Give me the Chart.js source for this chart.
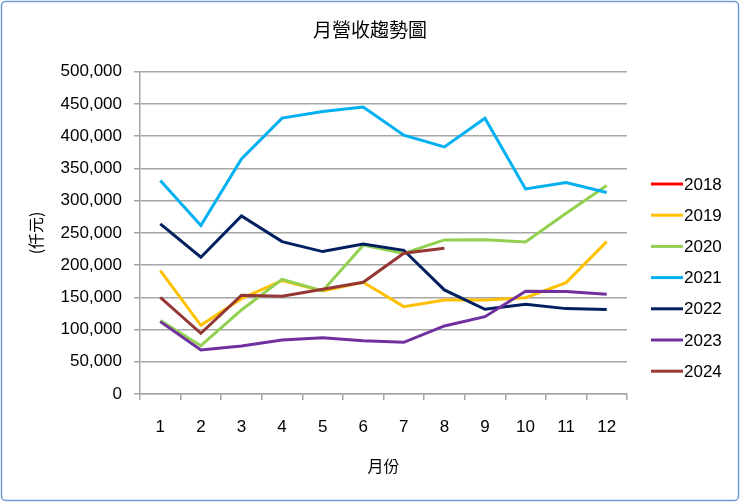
<!DOCTYPE html>
<html>
<head>
<meta charset="utf-8">
<script src="https://cdn.jsdelivr.net/npm/chart.js@4/dist/chart.umd.min.js"></script>
<style>
  html, body { margin: 0; padding: 0; background: #fff; }
  #wrap { width: 740px; height: 502px; }
</style>
</head>
<body>
<div id="wrap"><canvas id="revenueChart"></canvas></div>
<script>
const months = ["1", "2", "3", "4", "5", "6", "7", "8", "9", "10", "11", "12"];
const years = ["2018", "2019", "2020", "2021", "2022", "2023", "2024"];
const lineColors = ["#ff0000", "#ffc000", "#92d050", "#00b0f0", "#002060", "#7030a0", "#953735"];

const rev2018 = [];
const rev2019 = [191500, 106600, 148000, 176000, 160000, 173400, 135600, 146000, 146000, 149500, 172800, 236500];
const rev2020 = [114000, 75000, 130400, 178000, 160000, 231000, 218000, 239100, 239500, 236000, 280500, 323400];
const rev2021 = [331200, 261300, 364900, 428100, 438400, 445200, 401700, 383500, 428000, 318300, 328100, 312600];
const rev2022 = [264000, 212300, 276400, 236500, 221000, 232900, 223000, 161500, 131500, 139300, 132500, 131000];
const rev2023 = [112300, 68300, 74500, 83900, 87400, 82800, 80200, 105600, 120000, 159400, 159000, 154800];
const rev2024 = [150100, 94200, 153200, 151700, 162500, 173400, 218500, 226200];

const series = [rev2018, rev2019, rev2020, rev2021, rev2022, rev2023, rev2024];
const gridGray = "#a6a6a6";

// white background, rounded frame and the line legend on the right
const frameAndLegend = {
  id: "frameAndLegend",
  beforeDraw: (chart) => {
    const { ctx, width, height } = chart;
    ctx.save();
    ctx.fillStyle = "#fff";
    ctx.fillRect(0, 0, width, height);
    ctx.restore();
  },
  afterDraw: (chart) => {
    const { ctx, width, height } = chart;
    ctx.save();
    ctx.strokeStyle = "#6d9bd8";
    ctx.lineWidth = 1.5;
    ctx.beginPath();
    ctx.roundRect(1.5, 1.5, width - 3, height - 3, 4);
    ctx.stroke();

    ctx.font = '17px "Liberation Sans", Arial, sans-serif';
    ctx.textBaseline = "middle";
    ctx.fillStyle = "#000";
    chart.data.datasets.forEach((ds, i) => {
      const y = 184 + i * 31.2;
      ctx.strokeStyle = ds.borderColor;
      ctx.lineWidth = 3;
      ctx.beginPath();
      ctx.moveTo(651, y);
      ctx.lineTo(683, y);
      ctx.stroke();
      ctx.fillText(ds.label, 684, y + 1);
    });
    ctx.restore();
  },
};

const data = {
  labels: months,
  datasets: years.map((yr, i) => ({
    label: yr,
    data: series[i],
    borderColor: lineColors[i],
    backgroundColor: lineColors[i],
    borderWidth: 3,
    pointRadius: 0,
    tension: 0,
    order: years.length - i,
  })),
};

const options = {
  responsive: true,
  maintainAspectRatio: false,
  animation: false,
  layout: { padding: 0 },
  plugins: {
    legend: { display: false },
    tooltip: { enabled: false },
    title: {
      display: true,
      text: "月營收趨勢圖",
      color: "#000",
      font: { family: '"Noto Sans CJK TC", sans-serif', size: 19, weight: "normal", lineHeight: 1.2 },
      padding: { top: 18, bottom: 31 },
    },
  },
  scales: {
    x: {
      offset: true,
      grid: { offset: true, drawOnChartArea: false, drawTicks: true, tickLength: 6, color: gridGray, lineWidth: 1.5 },
      border: { color: gridGray, width: 1.5 },
      ticks: { color: "#000", padding: 17, font: { family: '"Liberation Sans", Arial, sans-serif', size: 17 } },
      title: {
        display: true,
        text: "月份",
        color: "#000",
        font: { family: '"Noto Sans CJK TC", sans-serif', size: 16, lineHeight: 1.2 },
        padding: { top: 0, bottom: 26 },
      },
      afterFit: (scale) => { scale.height = 108; },
    },
    y: {
      min: 0,
      max: 500000,
      grid: { color: gridGray, lineWidth: 1.5, tickLength: 6 },
      border: { color: gridGray, width: 1.5 },
      ticks: {
        stepSize: 50000,
        color: "#000",
        padding: 12,
        font: { family: '"Liberation Sans", Arial, sans-serif', size: 17 },
        callback: (v) => v.toLocaleString("en-US"),
      },
      title: {
        display: true,
        text: "(仟元)",
        color: "#000",
        font: { family: '"Noto Sans CJK TC", sans-serif', size: 16, lineHeight: 1.2 },
        padding: { top: 26, bottom: 0 },
      },
      afterFit: (scale) => { scale.width = 140; },
    },
    // empty box on the right that reserves room for the legend
    legendSpace: {
      position: "right",
      min: 0,
      max: 1,
      grid: { display: false },
      border: { display: false },
      ticks: { display: false },
      afterFit: (scale) => { scale.width = 113; },
    },
  },
};

new Chart("revenueChart", { type: "line", data, options, plugins: [frameAndLegend] });
</script>
</body>
</html>
